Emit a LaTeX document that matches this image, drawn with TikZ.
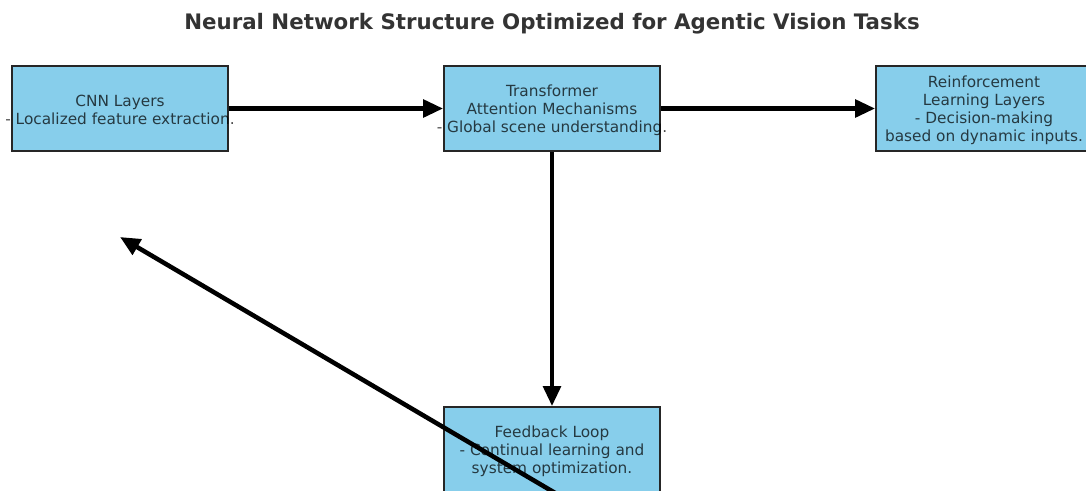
\documentclass[tikz,border=0pt]{standalone}
\usepackage{fontspec}
\setmainfont{DejaVu Sans}
\usetikzlibrary{arrows.meta}
\definecolor{boxblue}{HTML}{87CEEB}
\definecolor{titlegray}{HTML}{333333}
\tikzset{
    layerbox/.style={draw=black!85, line width=1.3pt, fill=boxblue,
        minimum width=162pt, minimum height=63.75pt, inner sep=0pt},
    boxtext/.style={align=center, text opacity=0.72,
        font=\fontsize{11.5}{13.5}\selectfont},
    flow/.style={line width=3.4pt, -{Triangle[length=15pt,width=13pt]}},
}

\begin{document}
\begin{tikzpicture}[x=0.75pt, y=-0.75pt]
            \useasboundingbox (0,0) rectangle (1086,490);
            \clip (0,0) rectangle (1086,490);
            \node[font=\fontsize{16}{19}\selectfont\bfseries, text=titlegray] (title) at (552,23.5)
                {Neural Network Structure Optimized for Agentic Vision Tasks};
            \node[layerbox, label={[boxtext,yshift=-1pt]center:CNN Layers\\- Localized feature extraction.}]
                (cnn) at (120,108.5) {};
            \node[layerbox, label={[boxtext,yshift=-1pt]center:Transformer\\Attention Mechanisms\\- Global scene understanding.}]
                (trans) at (552,108.5) {};
            \node[layerbox, label={[boxtext,yshift=-1pt]center:Reinforcement\\Learning Layers\\- Decision-making\\based on dynamic inputs.}]
                (rl) at (984,108.5) {};
            \node[layerbox, label={[boxtext,yshift=-1pt]center:Feedback Loop\\- Continual learning and\\system optimization.}]
                (fb) at (552,449.5) {};
            \coordinate (loopstart) at (562,497);
            \coordinate (loopend) at (120,237);
            \draw[flow] (cnn.east) -- (trans.west);
            \draw[flow] (trans.east) -- (rl.west);
            \draw[flow] (trans.south) -- (fb.north);
            \draw[flow] (loopstart) -- (loopend);
        \end{tikzpicture}
\end{document}
